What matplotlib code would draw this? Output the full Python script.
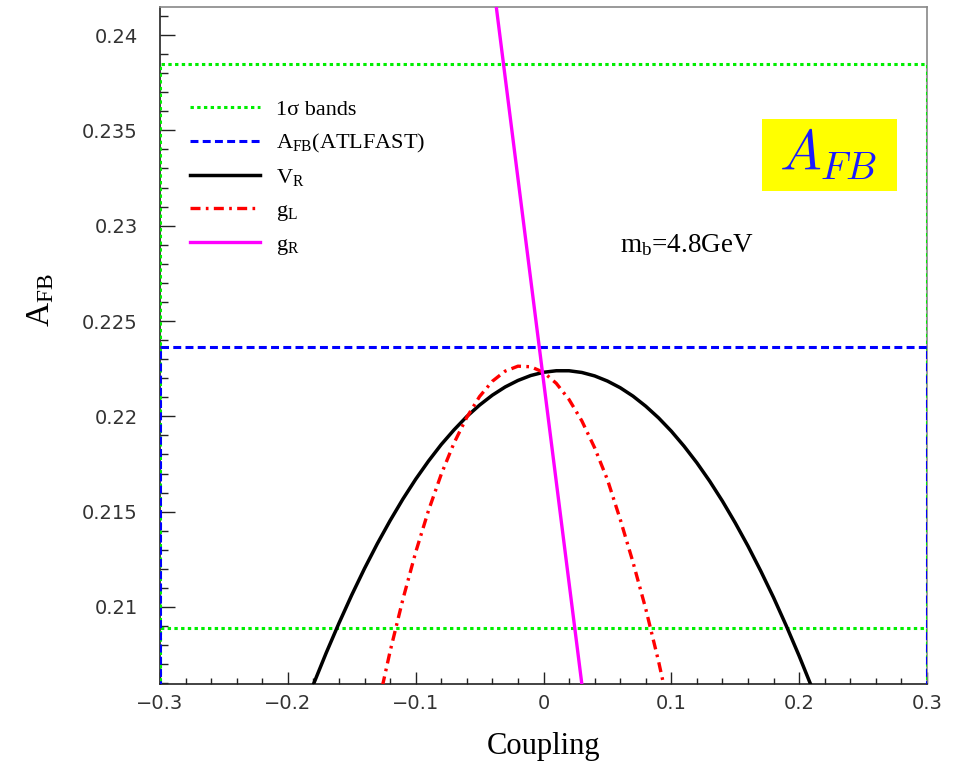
import matplotlib
matplotlib.use("Agg")
import matplotlib.pyplot as plt
from matplotlib.patches import Rectangle
from matplotlib.ticker import FixedLocator, MultipleLocator

plt.rcParams['mathtext.fontset'] = 'custom'
plt.rcParams['mathtext.rm'] = 'Liberation Serif'
plt.rcParams['mathtext.it'] = 'Liberation Serif:italic'

# ---------------- data ----------------
vr_x = [-0.20, -0.19, -0.18, -0.17, -0.16, -0.15, -0.14, -0.13, -0.12, -0.11, -0.10,
        -0.09, -0.08, -0.07, -0.06, -0.05, -0.04, -0.03, -0.02, -0.01, 0.00,
        0.01, 0.02, 0.03, 0.04, 0.05, 0.06, 0.07, 0.08, 0.09, 0.10,
        0.11, 0.12, 0.13, 0.14, 0.15, 0.16, 0.17, 0.18, 0.19, 0.20, 0.21, 0.22]
vr_y = [0.20239, 0.20421, 0.20594, 0.20759, 0.20915, 0.21063, 0.21202, 0.21332, 0.21453,
        0.21566, 0.21670, 0.21765, 0.21852, 0.21929, 0.21999, 0.22059, 0.22111, 0.22154,
        0.22188, 0.22214, 0.22231, 0.22239, 0.22239, 0.22230, 0.22212, 0.22185, 0.22150,
        0.22106, 0.22053, 0.21992, 0.21922, 0.21843, 0.21756, 0.21660, 0.21555, 0.21441,
        0.21319, 0.21188, 0.21049, 0.20900, 0.20743, 0.20577, 0.20403]

gl_x = [-0.13, -0.12, -0.11, -0.10, -0.09, -0.08, -0.07, -0.06, -0.05, -0.04, -0.03,
        -0.02, -0.01, 0.00, 0.01, 0.02, 0.03, 0.04, 0.05, 0.06, 0.07, 0.08, 0.09, 0.10]
gl_y = [0.20465, 0.20767, 0.21040, 0.21287, 0.21505, 0.21696, 0.21860, 0.21995, 0.22104,
        0.22184, 0.22237, 0.22263, 0.22260, 0.22231, 0.22173, 0.22088, 0.21976, 0.21835,
        0.21668, 0.21460, 0.21235, 0.20990, 0.20715, 0.20410]

gr_x = [-0.04, 0.035]
gr_y = [0.2431, 0.2033]

band_hi = 0.2385
band_lo = 0.2089
afb_atlfast = 0.22364
x_range = [-0.3, 0.3]

xtick_vals = [-0.3, -0.2, -0.1, 0.0, 0.1, 0.2, 0.3]
xtick_labels = ['\u22120.3', '\u22120.2', '\u22120.1', '0', '0.1', '0.2', '0.3']
ytick_vals = [0.21, 0.215, 0.22, 0.225, 0.23, 0.235, 0.24]
ytick_labels = ['0.21', '0.215', '0.22', '0.225', '0.23', '0.235', '0.24']

# ---------------- figure ----------------
fig = plt.figure(figsize=(9.62, 7.61), dpi=100)
ax = fig.add_axes([160/962, 77/761, 767/962, 677/761])
ax.set_xlim(-0.3, 0.3)
ax.set_ylim(0.20596, 0.24147)

low = 0.19
def box(v):
    return [x_range[0], x_range[0], x_range[1], x_range[1]], [low, v, v, low]

gx, gy = box(band_hi)
ax.plot(gx, gy, color='#00ee00', lw=2.2, dashes=(1.1, 1.1), label='1\u03c3 bands', zorder=3)
gx, gy = box(band_lo)
ax.plot(gx, gy, color='#00ee00', lw=2.2, dashes=(1.1, 1.1), zorder=3)
bx, by = box(afb_atlfast)
ax.plot(bx, by, color='#0000ff', lw=2.2, dashes=(2.6, 1.4), label=r'A$_{\rm FB}$(ATLFAST)', zorder=3)

ax.plot(vr_x, vr_y, color='black', lw=2.5, label=r'V$_{\rm R}$', zorder=4,
        solid_joinstyle='round')
ax.plot(gl_x, gl_y, color='#ff0000', lw=2.4, dashes=(3.0, 1.6, 0.8, 1.6), label=r'g$_{\rm L}$',
        zorder=4, dash_joinstyle='round')
ax.plot(gr_x, gr_y, color='#ff00ff', lw=2.4, label=r'g$_{\rm R}$', zorder=5)

# ticks
ax.xaxis.set_major_locator(FixedLocator(xtick_vals))
ax.set_xticklabels(xtick_labels)
ax.xaxis.set_minor_locator(MultipleLocator(0.02))
ax.yaxis.set_major_locator(FixedLocator(ytick_vals))
ax.set_yticklabels(ytick_labels)
ax.yaxis.set_minor_locator(MultipleLocator(0.001))

ax.tick_params(axis='both', which='both', direction='in', top=False, right=False, color='#222222')
ax.tick_params(axis='y', which='major', length=11, width=1.0, pad=16, labelsize=14, labelcolor='#333333')
ax.tick_params(axis='y', which='minor', length=5.5, width=1.0)
ax.tick_params(axis='x', which='major', length=9, width=1.0, pad=7, labelsize=14, labelcolor='#333333')
ax.tick_params(axis='x', which='minor', length=4.5, width=1.0)
for lab in ax.get_xticklabels() + ax.get_yticklabels():
    lab.set_fontfamily('DejaVu Sans')

for s in ['top', 'right']:
    ax.spines[s].set_color('#888888')
    ax.spines[s].set_linewidth(1.2)
for s in ['left', 'bottom']:
    ax.spines[s].set_color('#222222')
    ax.spines[s].set_linewidth(1.2)

ax.set_xlabel('Coupling', fontfamily='Liberation Serif', fontsize=22, labelpad=14)
ax.set_ylabel(r'A$_{\rm FB}$', fontfamily='Liberation Serif', fontsize=24)
ax.yaxis.set_label_coords(-0.135, 0.567)

leg = ax.legend(loc='upper left', bbox_to_anchor=(0.013, 0.893), frameon=False,
                prop={'family': 'Liberation Serif', 'size': 16},
                handlelength=3.15, handletextpad=0.72, labelspacing=0.54)

# A_FB yellow box
ax.add_patch(Rectangle((0.7849, 0.728), 0.176, 0.1066, transform=ax.transAxes,
                       facecolor='#ffff00', edgecolor='none', zorder=6))
ax.text(0.871, 0.781, r'$A_{FB}$', transform=ax.transAxes, ha='center', va='center',
        fontsize=40, color='#1a1aff', math_fontfamily='cm', zorder=7)

ax.text(0.6, 0.638, r'm$_{\rm b}$=4.8GeV', transform=ax.transAxes, ha='left', va='baseline',
        fontfamily='Liberation Serif', fontsize=19.5)

fig.savefig('out.png', dpi=100)
